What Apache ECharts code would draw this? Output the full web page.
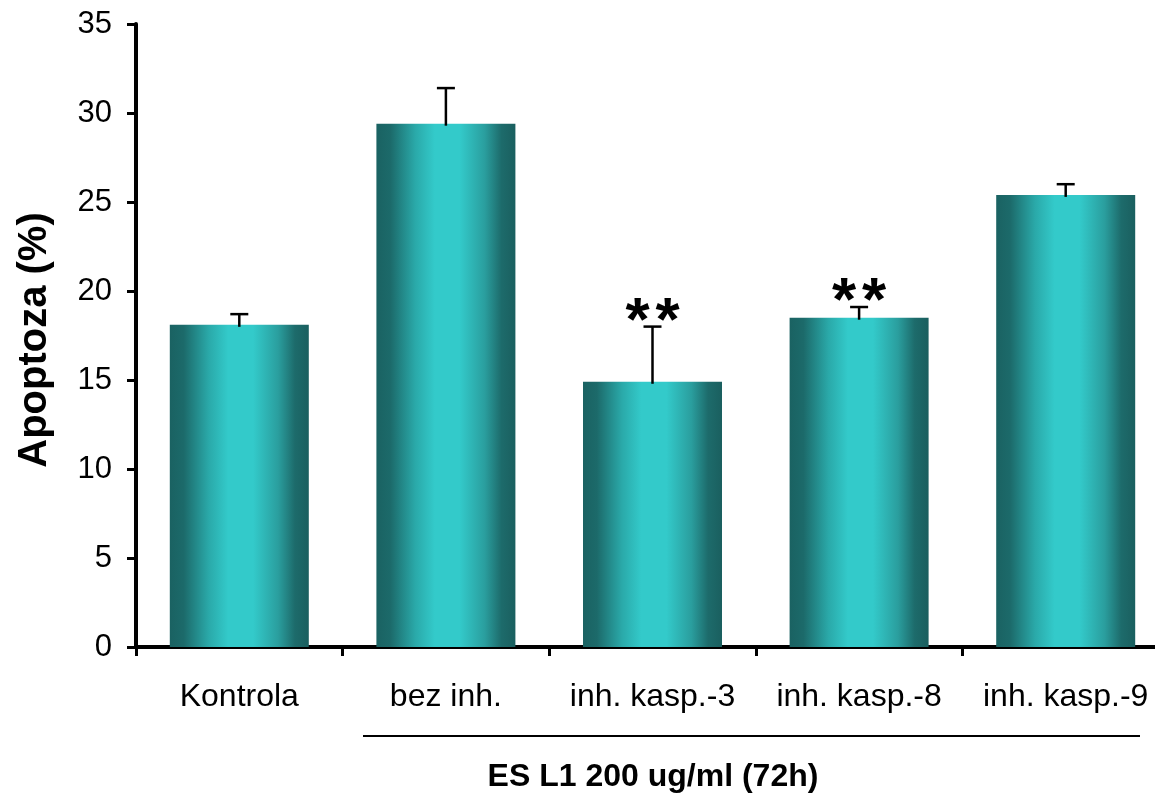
<!DOCTYPE html>
<html>
<head>
<meta charset="utf-8">
<script src="https://cdn.jsdelivr.net/npm/echarts@6/dist/echarts.min.js"></script>
<style>
html,body{margin:0;padding:0;background:#fff;}
#c{width:1155px;height:793px;}
</style>
</head>
<body>
<div id="c"></div>
<script>
const categories = ['Kontrola', 'bez inh.', 'inh. kasp.-3', 'inh. kasp.-8', 'inh. kasp.-9'];
const values = [18.1, 29.4, 14.9, 18.5, 25.4];
const errors = [0.6, 2.0, 3.1, 0.6, 0.6];
const marks = ['', '', '**', '**', ''];
const yMin = 0, yMax = 35, yStep = 5;
const yTitle = 'Apoptoza (%)';
const groupTitle = 'ES L1 200 ug/ml (72h)';

const FONT = '"Liberation Sans", Arial, sans-serif';
const chart = echarts.init(document.getElementById('c'), null, {renderer: 'canvas'});

const barGradient = {
  type: 'linear', x: 0, y: 0, x2: 1, y2: 0,
  colorStops: [
    {offset: 0, color: '#1a6262'},
    {offset: 0.1, color: '#1c6a6a'},
    {offset: 0.28, color: '#2aa9a9'},
    {offset: 0.42, color: '#33caca'},
    {offset: 0.6, color: '#33caca'},
    {offset: 0.78, color: '#2a9e9e'},
    {offset: 0.9, color: '#1d6b6b'},
    {offset: 1, color: '#1a5f5f'}
  ]
};

const errData = values.map((v, i) => [i, v, v + errors[i]]);

chart.setOption({
  animation: false,
  backgroundColor: '#fff',
  grid: {left: 136, width: 1033, top: 24, bottom: 146, containLabel: false, outerBoundsMode: 'none'},
  xAxis: {
    type: 'category',
    data: categories,
    boundaryGap: true,
    axisLine: {show: true, lineStyle: {color: '#000', width: 4}},
    axisTick: {show: true, inside: false, length: 9, lineStyle: {color: '#000', width: 3}},
    axisLabel: {color: '#000', fontFamily: FONT, fontSize: 32, margin: 34, interval: 0}
  },
  yAxis: {
    type: 'value',
    min: yMin, max: yMax, interval: yStep,
    splitLine: {show: false},
    axisLine: {show: true, lineStyle: {color: '#000', width: 4}},
    axisTick: {show: true, inside: false, length: 9, lineStyle: {color: '#000', width: 3}},
    axisLabel: {color: '#000', fontFamily: FONT, fontSize: 31, margin: 24}
  },
  series: [
    {
      type: 'bar',
      data: values,
      barWidth: 139,
      itemStyle: {color: barGradient},
      z: 2
    },
    {
      type: 'custom',
      data: errData,
      z: 5,
      encode: {x: 0, y: [1, 2]},
      renderItem: function (params, api) {
        const idx = api.value(0);
        const lo = api.coord([idx, api.value(1)]);
        const hi = api.coord([idx, api.value(2)]);
        const capHalf = 9;
        const children = [
          {type: 'line', shape: {x1: lo[0], y1: lo[1] + 2, x2: hi[0], y2: hi[1]},
           style: {stroke: '#000', lineWidth: 2.5}},
          {type: 'line', shape: {x1: hi[0] - capHalf, y1: hi[1], x2: hi[0] + capHalf, y2: hi[1]},
           style: {stroke: '#000', lineWidth: 2.5}}
        ];
        const m = marks[params.dataIndex];
        if (m) {
          const chars = m.split('');
          chars.forEach(function (ch, k) {
            children.push({
              type: 'text',
              style: {
                text: ch, x: hi[0] + (k - (chars.length - 1) / 2) * 30, y: hi[1] + 27,
                align: 'center', verticalAlign: 'bottom',
                fontFamily: FONT, fontWeight: 'bold', fontSize: 62, fill: '#000'
              }
            });
          });
        }
        return {type: 'group', children: children};
      }
    }
  ],
  graphic: [
    {
      type: 'text', x: 35, y: 340, rotation: Math.PI / 2,
      style: {text: yTitle, align: 'center', verticalAlign: 'middle',
              fontFamily: FONT, fontWeight: 'bold', fontSize: 40, fill: '#000'}
    },
    {
      type: 'line', shape: {x1: 363, y1: 736, x2: 1140, y2: 736},
      style: {stroke: '#000', lineWidth: 2}
    },
    {
      type: 'text', x: 653, y: 777,
      style: {text: groupTitle, align: 'center', verticalAlign: 'middle',
              fontFamily: FONT, fontWeight: 'bold', fontSize: 32, fill: '#000'}
    }
  ]
});
</script>
</body>
</html>
